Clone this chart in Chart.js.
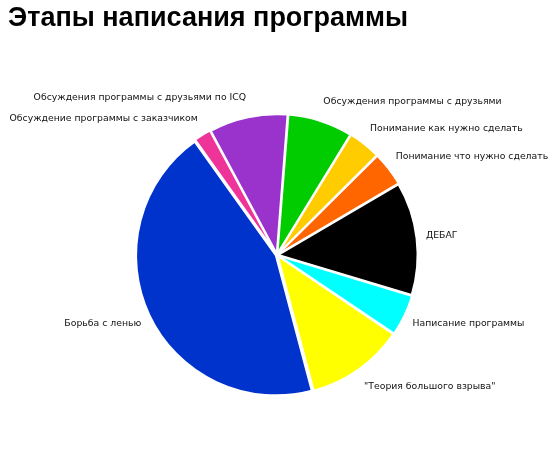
<!DOCTYPE html>
<html>
<head>
<meta charset="utf-8">
<script src="https://cdn.jsdelivr.net/npm/chart.js@4"></script>
<style>
  html, body { margin: 0; padding: 0; background: #fff; }
  #wrap { width: 550px; height: 469px; }
</style>
</head>
<body>
<div id="wrap"><canvas id="pieChart" width="550" height="469"></canvas></div>
<script>
const chartTitle = "Этапы написания программы";

const stages = [
  "Обсуждения программы с друзьями",
  "Понимание как нужно сделать",
  "Понимание что нужно сделать",
  "ДЕБАГ",
  "Написание программы",
  "\"Теория большого взрыва\"",
  "Борьба с ленью",
  "Обсуждение программы с заказчиком",
  "Обсуждения программы с друзьями по ICQ"
];

const shares = [7.5, 3.8, 4, 13.1, 4.8, 11.4, 44.3, 2, 9.1];

const sliceColors = [
  "#00cc00", "#ffcc00", "#ff6600", "#000000", "#00ffff",
  "#ffff00", "#0033cc", "#ee3399", "#9933cc"
];

// draws the category names outside each slice
const outerLabels = {
  id: "outerLabels",
  afterDatasetsDraw(chart) {
    const ctx = chart.ctx;
    const arcs = chart.getDatasetMeta(0).data;
    ctx.save();
    ctx.font = "9.3px 'DejaVu Sans'";
    ctx.fillStyle = "#111";
    ctx.textBaseline = "middle";
    arcs.forEach((arc, i) => {
      const p = arc.getProps(["x", "y", "startAngle", "endAngle", "outerRadius"], true);
      const mid = (p.startAngle + p.endAngle) / 2;
      // labels sit a bit further out vertically than horizontally
      const lx = p.x + Math.cos(mid) * (p.outerRadius + 11);
      const ly = p.y + Math.sin(mid) * (p.outerRadius + 22);
      ctx.textAlign = Math.cos(mid) >= 0 ? "left" : "right";
      ctx.fillText(chart.data.labels[i], lx, ly);
    });
    ctx.restore();
  }
};

const ctx = document.getElementById("pieChart").getContext("2d");
const pieChart = new Chart(ctx, {
  type: "pie",
  data: {
    labels: stages,
    datasets: [{
      data: shares,
      backgroundColor: sliceColors,
      borderColor: "#fff",
      borderWidth: 2,
      offset: 5,
      radius: 139
    }]
  },
  options: {
    responsive: false,
    animation: false,
    rotation: 4.5,
    layout: { padding: { left: 8, right: 4, top: 0, bottom: 0 } },
    plugins: {
      legend: { display: false },
      tooltip: { enabled: false },
      title: {
        display: true,
        text: chartTitle,
        align: "start",
        color: "#000",
        font: { family: "'Liberation Sans'", size: 27, weight: "bold" },
        padding: { top: 2, bottom: 6.6 }
      }
    }
  },
  plugins: [outerLabels]
});
</script>
</body>
</html>
